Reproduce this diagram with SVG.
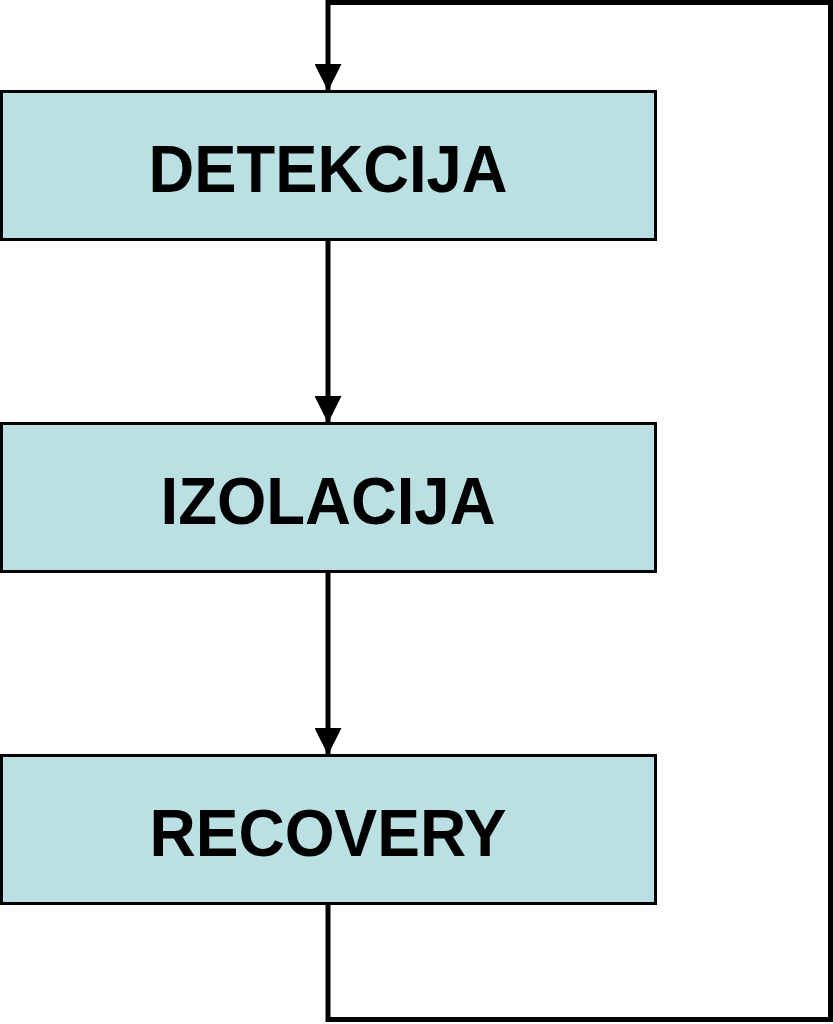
<svg xmlns="http://www.w3.org/2000/svg" width="833" height="1024" viewBox="0 0 833 1024">
<style>
.box{fill:#bbe0e3;stroke:#000;stroke-width:3}
.lbl{font-family:"Liberation Sans",Arial,sans-serif;font-weight:bold;font-size:67px;fill:#000;text-anchor:middle}
.con{fill:none;stroke:#000;stroke-width:5}
</style>
<defs>
<marker id="ah" markerUnits="userSpaceOnUse" markerWidth="27" markerHeight="27" refX="27" refY="13.5" orient="auto">
<path d="M0,0 L27,13.5 L0,27 Z" fill="#000"/>
</marker>
</defs>
<rect width="833" height="1024" fill="#fff"/>
<g id="connectors">
<path class="con" d="M328,904 L328,1019.5 L830.5,1019.5 L830.5,2.5 L328,2.5 L328,91" marker-end="url(#ah)"/>
<path class="con" d="M328,240 L328,423" marker-end="url(#ah)"/>
<path class="con" d="M328,572 L328,755" marker-end="url(#ah)"/>
</g>
<g id="detekcija">
<rect class="box" x="1.5" y="91.5" width="654" height="148"/>
<text class="lbl" x="328" y="191.5" textLength="359" lengthAdjust="spacingAndGlyphs">DETEKCIJA</text>
</g>
<g id="izolacija">
<rect class="box" x="1.5" y="423.5" width="654" height="148"/>
<text class="lbl" x="328" y="523.5" textLength="335" lengthAdjust="spacingAndGlyphs">IZOLACIJA</text>
</g>
<g id="recovery">
<rect class="box" x="1.5" y="755.5" width="654" height="148"/>
<text class="lbl" x="328" y="855.5" textLength="357" lengthAdjust="spacingAndGlyphs">RECOVERY</text>
</g>
</svg>
